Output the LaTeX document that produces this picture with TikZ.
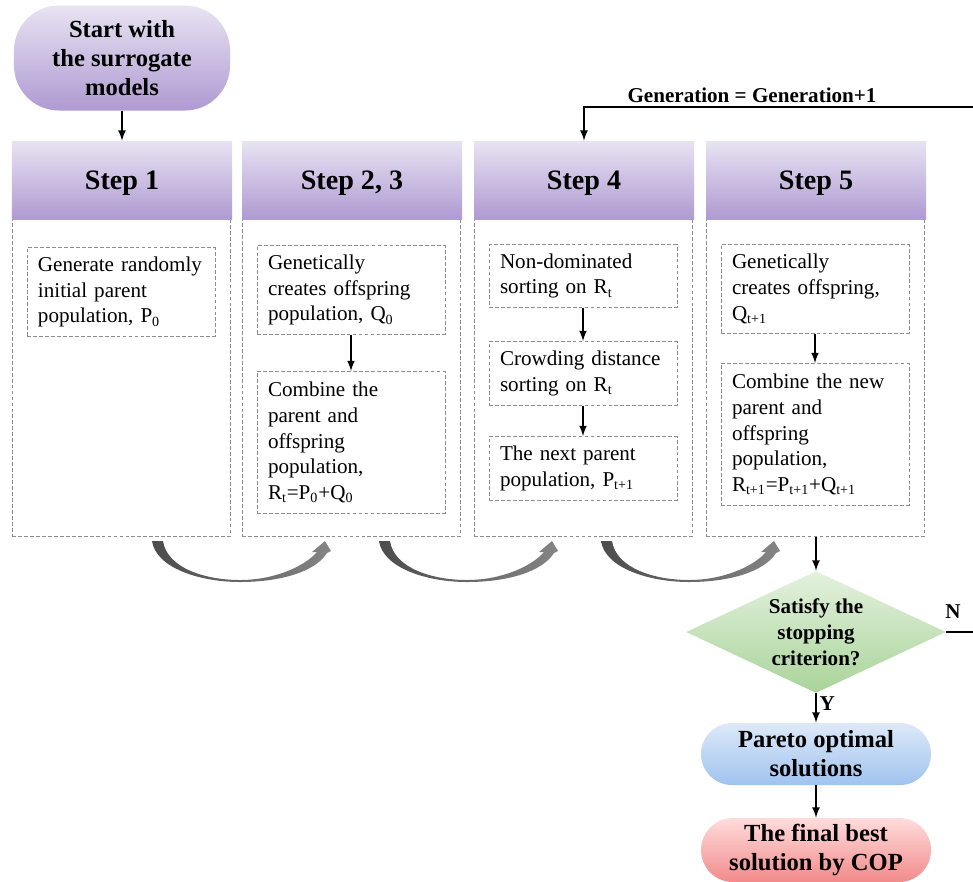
\documentclass[tikz,border=0pt]{standalone}
\usepackage{fontspec}
\setmainfont{Liberation Serif}
\usetikzlibrary{arrows, shapes}

\definecolor{lilacTop}{HTML}{E8E3F2}
\definecolor{lilacBot}{HTML}{AF9AD2}
\definecolor{mintTop}{HTML}{E4F1DE}
\definecolor{mintBot}{HTML}{A9D49A}
\definecolor{skyTop}{HTML}{DDE9F8}
\definecolor{skyBot}{HTML}{A0C3EF}
\definecolor{roseTop}{HTML}{FFDCDC}
\definecolor{roseBot}{HTML}{F28A8A}
\definecolor{dashgray}{HTML}{8C8C8C}

\begin{document}
\begin{tikzpicture}[
  x = 0.2mm, y = -0.2mm,
  header/.style={rectangle, align=center, minimum width=44mm, minimum height=15.6mm, text depth=0pt, top color=lilacTop, bottom color=lilacBot, font=\fontsize{16}{19}\selectfont\bfseries},
  frame/.style={draw=dashgray, dash pattern=on 2.2pt off 1.2pt, line width=0.55pt, minimum width=43.6mm, minimum height=63.6mm, anchor=north},
  task/.style={draw=dashgray, dash pattern=on 2.2pt off 1.2pt, line width=0.55pt, text width=33.2mm, align=left, inner xsep=2.2mm, inner ysep=0pt, anchor=north, font=\fontsize{12}{14.7}\selectfont},
  terminal/.style={rectangle, align=center, font=\fontsize{14}{16.5}\selectfont\bfseries},
  flow/.style={-latex, line width=1pt},
  lbl/.style={font=\fontsize{12}{14.7}\selectfont\bfseries, inner sep=1.5pt},
  stepbend/.style={left color=black!70, middle color=black!58, right color=black!48, draw=none}
]
%general params
\def\cA{121} %column centres
\def\cB{351}
\def\cC{583}
\def\cD{815}
\def\hy{180}  %header centre
\def\fy{218}  %frame top
\useasboundingbox (0,0) rectangle (973,881);

%start
\node[terminal, top color=lilacTop, bottom color=lilacBot, minimum width=43.2mm, minimum height=21mm, rounded corners=9mm] (start) at (122,58) {Start with\\the surrogate\\models};

%frames
\node[frame] (f1) at (\cA,\fy) {};
\node[frame] (f2) at (\cB,\fy) {};
\node[frame] (f3) at (\cC,\fy) {};
\node[frame] (f4) at (\cD,\fy) {};

%headers
\node[header] (h1) at (\cA+1,\hy) {Step 1};
\node[header] (h2) at (\cB+1,\hy) {Step 2, 3};
\node[header] (h3) at (\cC+1,\hy) {Step 4};
\node[header] (h4) at (\cD+1,\hy) {Step 5};

%Step 1
\node[task, minimum height=17.8mm] (t1) at (\cA,247) {Generate randomly\\initial parent\\population, P\textsubscript{0}};

%Step 2, 3
\node[task, minimum height=17.8mm] (t2a) at (\cB,245) {Genetically\\creates offspring\\population, Q\textsubscript{0}};
\node[task, minimum height=28.4mm] (t2b) at (\cB,371) {Combine the\\parent and\\offspring\\population,\\R\textsubscript{t}=P\textsubscript{0}+Q\textsubscript{0}};

%Step 4
\node[task, minimum height=12.6mm] (t3a) at (\cC,244) {Non-dominated\\sorting on R\textsubscript{t}};
\node[task, minimum height=12.8mm] (t3b) at (\cC,341) {Crowding distance\\sorting on R\textsubscript{t}};
\node[task, minimum height=12.8mm] (t3c) at (\cC,436) {The next parent\\population, P\textsubscript{t+1}};

%Step 5
\node[task, minimum height=17.8mm] (t4a) at (\cD,244) {Genetically\\creates offspring,\\Q\textsubscript{t+1}};
\node[task, minimum height=28.4mm] (t4b) at (\cD,363) {Combine the new\\parent and\\offspring\\population,\\R\textsubscript{t+1}=P\textsubscript{t+1}+Q\textsubscript{t+1}};

%decision and end
\node[diamond, aspect=2.13, align=center, top color=mintTop, bottom color=mintBot, minimum width=52mm, minimum height=24.4mm, inner sep=0pt, font=\fontsize{12}{14.7}\selectfont\bfseries] (dec) at (816,632) {Satisfy the\\stopping\\criterion?};
\node[terminal, top color=skyTop, bottom color=skyBot, minimum width=46mm, minimum height=12.4mm, rounded corners=6.2mm] (pareto) at (816,754) {Pareto optimal\\solutions};
\node[terminal, top color=roseTop, bottom color=roseBot, minimum width=46mm, minimum height=12.8mm, rounded corners=6.4mm] (final) at (816,850) {The final best\\solution by COP};

%arrows
\draw[flow] (start) -- (h1);
\draw[flow] (t2a) -- (t2b);
\draw[flow] (t3a) -- (t3b);
\draw[flow] (t3b) -- (t3c);
\draw[flow] (t4a) -- (t4b);
\draw[flow] (f4.south -| dec.north) -- (dec.north);
\draw[flow] (dec) -- (pareto) node[lbl, pos=0.35, right] {Y};
\draw[flow] (pareto) -- (final);

%loop back to step 4
\coordinate (loopB) at (978,632);
\coordinate (loopT) at (978,107);
\draw[flow] (dec.east) -- (loopB) -- (loopT) -| (h3.north);
\node[lbl] (nlab) at (953,612) {N};
\node[lbl, anchor=south, inner sep=0pt] (gen) at (752,103) {Generation = Generation+1};

%curved transitions between steps
\foreach \s in {0,227,449}
  \shade[stepbend] ({\s+152},541) .. controls ({\s+156},568) and ({\s+200},582) .. ({\s+240},582)
    .. controls ({\s+280},582) and ({\s+315},572) .. ({\s+327},553)
    -- ({\s+331},551) -- ({\s+325},541) -- ({\s+312},552) -- ({\s+317},552)
    .. controls ({\s+305},566) and ({\s+275},580) .. ({\s+240},580)
    .. controls ({\s+205},580) and ({\s+167},568) .. ({\s+163},541) -- cycle;

\end{tikzpicture}
\end{document}
